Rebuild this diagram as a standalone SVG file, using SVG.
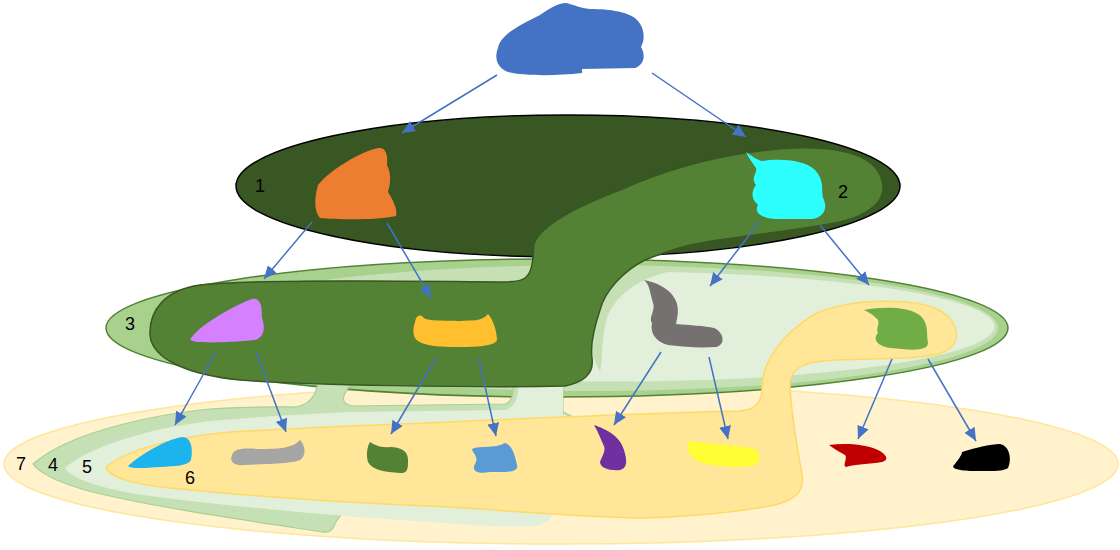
<svg xmlns="http://www.w3.org/2000/svg" width="1120" height="550" viewBox="0 0 1120 550">
<defs>
<style>
.lbl{font-family:"Liberation Sans",Arial,sans-serif;font-size:18px;fill:#000;text-anchor:middle}
.cn{stroke:#4472C4;stroke-width:1.5;fill:none;marker-end:url(#ah)}
</style>
<marker id="ah" viewBox="0 0 13 12" refX="13" refY="6" markerWidth="13" markerHeight="12" orient="auto" markerUnits="userSpaceOnUse">
<path d="M0,0 L13,6 L0,12 Z" fill="#4472C4"/>
</marker>
</defs>
<rect width="1120" height="550" fill="#fff"/>

<g id="region7">
<ellipse cx="561" cy="464" rx="557" ry="80" fill="#FFF2CC" stroke="#FFE699" stroke-width="1.5"/>
</g>

<g id="region3">
<ellipse cx="557" cy="328" rx="451" ry="69" fill="#A9D18E" stroke="#548235" stroke-width="1.5"/>
<ellipse cx="590" cy="328" rx="408" ry="63" fill="#C5E0B4"/>
<path d="M600,372 C603,358 601,338 607,318 C614,296 640,278 668,272 A378,55 0 1 1 565,381 L510,388 L510,350 L590,350 Z" fill="#E2EFDA"/>
</g>

<g id="region4">
<path d="M33,464 C60,440 120,420 200,410 C240,406 280,407 295,407 C308,405 316,398 318,382 L352,382 C346,392 336,402 352,406 L505,404 C512,402 514,394 513,382 L563,382 L563,412 L600,430 L600,500 L345,512 C338,516 336,522 334,526 C331,533 325,533 316,531 C250,521 140,505 85,490 C58,482 40,474 33,464 Z" fill="#C5E0B4" stroke="#A9D18E" stroke-width="1.2"/>
</g>

<g id="region5">
<path d="M65,468 C90,446 150,428 210,421 C280,415 330,413 350,412 L505,410 C515,407 519,398 518,383 L563,381 L563,414 L600,430 L600,500 L556,508 C552,515 550,522 540,525 C520,528 480,526 447,523 C350,517 240,508 150,496 C100,489 70,478 65,468 Z" fill="#E2EFDA"/>
</g>

<g id="region1">
<ellipse cx="568" cy="186" rx="332" ry="71" fill="#385723" stroke="#000" stroke-width="1.5"/>
</g>

<g id="region2">
<path d="M525,278 C533,272 533,258 534,244 C540,225 580,205 620,190 C660,172 720,152 794,148 C840,146 875,155 882,180 C888,200 870,215 840,222 C790,232 720,238 690,245 C670,250 655,256 645,260 C625,270 605,290 600,310 C595,325 590,345 592,358 C594,372 585,382 565,386 C480,388 300,385 240,380 C190,375 152,360 150,335 C149,310 165,290 200,285 C260,278 450,282 500,282 C515,282 522,281 525,278 Z" fill="#548235" stroke="#385723" stroke-width="1.5"/>
</g>

<g id="region6">
<path d="M106,467 C125,452 165,438 230,432 C300,428 380,425 450,422 C560,417 650,413 740,411 C756,410 762,402 762,388 C762,362 782,334 815,314 C840,302 880,299 915,303 C945,307 958,322 956,338 C954,352 938,356 905,358 L835,360 C808,361 792,366 790,382 C790,410 798,450 802,475 C805,495 790,502 770,506 C730,513 690,517 640,518 C580,517 500,510 450,507 C350,503 250,496 170,488 C130,484 108,476 106,467 Z" fill="#FFE699" stroke="#FFD966" stroke-width="1.5"/>
</g>

<g id="n-blue-top"><path d="M498,48 C500,35 520,25 540,15 C550,8 558,3 566,3 C575,5 580,8 590,9 C610,9 630,12 637,20 C645,28 645,40 641,47 C646,55 644,65 635,68 L582,69 L582,73 C555,76 525,76 508,72 C497,68 494,58 498,48 Z" fill="#4472C4"/></g>
<g id="n-orange"><path d="M318,185 C330,170 360,152 378,148 C386,147 388,155 387,165 C392,175 390,185 388,192 C393,200 398,210 396,216 C380,220 340,220 320,218 C313,210 315,195 318,185 Z" fill="#ED7D31"/></g>
<g id="n-cyan"><path d="M746,152 C752,156 757,160 762,161 C780,158 805,160 815,170 C826,182 820,192 824,200 C828,210 822,218 812,219 L775,219 C760,218 754,212 758,205 C750,198 752,190 756,185 C750,178 758,172 756,168 C752,162 748,157 746,152 Z" fill="#2DFFFF"/></g>
<g id="n-lilac"><path d="M192,337 C200,325 235,305 252,299 C262,297 262,310 262,318 C266,330 263,338 255,340 C235,342 210,343 198,342 C190,341 189,339 192,337 Z" fill="#D580FF"/></g>
<g id="n-gold"><path d="M415,322 C416,316 420,313 424,318 C430,322 450,320 460,321 C470,320 482,322 488,314 C492,318 497,330 497,340 C495,347 470,347 455,347 C440,347 420,346 415,338 C412,332 414,326 415,322 Z" fill="#FFBF2F"/></g>
<g id="n-darkgray"><path d="M644,280 C655,282 668,288 673,296 C680,305 678,315 676,324 C690,325 705,326 714,328 C724,332 726,345 716,347 C700,348 685,347 668,345 C655,342 650,332 652,323 C648,318 656,310 653,303 C650,293 650,285 644,280 Z" fill="#767171"/></g>
<g id="n-green"><path d="M864,310 C880,307 905,306 918,314 C930,322 926,335 928,342 C929,352 910,350 890,348 C878,346 872,340 878,333 C875,328 882,322 876,318 C872,314 868,312 864,310 Z" fill="#70AD47"/></g>
<g id="n-skyblue"><path d="M128,466 C140,455 165,440 182,437 C192,437 193,450 191,460 C188,466 175,466 160,467 C145,468 130,469 128,466 Z" fill="#1CB4EC"/></g>
<g id="n-gray"><path d="M232,455 C234,448 245,448 260,449 C275,449 292,449 300,440 C305,445 307,455 300,460 C290,464 265,464 245,465 C235,466 229,462 232,455 Z" fill="#A5A5A5"/></g>
<g id="n-darkgreen"><path d="M370,442 C375,445 380,448 390,447 C402,447 408,452 408,460 C408,468 408,474 400,473 C385,472 372,470 368,462 C366,455 367,447 370,442 Z" fill="#548235"/></g>
<g id="n-steelblue"><path d="M472,449 C480,445 495,449 505,443 C512,445 515,455 517,465 C519,473 505,472 490,472 C478,474 470,472 476,462 C478,456 472,452 472,449 Z" fill="#5B9BD5"/></g>
<g id="n-purple"><path d="M594,425 C606,429 620,436 624,450 C627,460 628,468 620,470 C610,471 600,468 600,462 C602,456 607,450 603,444 C600,438 598,431 594,425 Z" fill="#7030A0"/></g>
<g id="n-yellow"><path d="M689,441 C700,443 730,445 752,448 C762,451 762,463 752,466 C735,468 710,466 700,462 C690,458 686,450 689,441 Z" fill="#FFFF33"/></g>
<g id="n-red"><path d="M829,445 C845,443 865,444 878,450 C886,454 890,460 882,462 C870,464 855,464 846,467 C842,466 848,458 845,455 C840,452 834,449 829,445 Z" fill="#C00000"/></g>
<g id="n-black"><path d="M954,465 C958,460 962,455 962,452 C975,448 990,444 1000,444 C1010,446 1012,460 1008,468 C1002,472 990,471 975,471 C962,471 950,469 954,465 Z" fill="#000"/></g>

<g id="connectors">
<line class="cn" x1="497" y1="75" x2="402" y2="133"/>
<line class="cn" x1="652" y1="73" x2="746" y2="137"/>
<line class="cn" x1="312" y1="222" x2="264" y2="279"/>
<line class="cn" x1="387" y1="223" x2="431" y2="298"/>
<line class="cn" x1="760" y1="221" x2="710" y2="286"/>
<line class="cn" x1="820" y1="225" x2="869" y2="285"/>
<line class="cn" x1="216" y1="352" x2="175" y2="425"/>
<line class="cn" x1="256" y1="352" x2="286" y2="432"/>
<line class="cn" x1="436" y1="358" x2="391" y2="434"/>
<line class="cn" x1="479" y1="359" x2="496" y2="436"/>
<line class="cn" x1="661" y1="352" x2="614" y2="425"/>
<line class="cn" x1="709" y1="357" x2="728" y2="439"/>
<line class="cn" x1="892" y1="359" x2="858" y2="439"/>
<line class="cn" x1="928" y1="359" x2="976" y2="441"/>
</g>

<g id="labels">
<text class="lbl" x="260" y="192">1</text>
<text class="lbl" x="843" y="198">2</text>
<text class="lbl" x="130" y="330">3</text>
<text class="lbl" x="21" y="470">7</text>
<text class="lbl" x="53" y="471">4</text>
<text class="lbl" x="87" y="473">5</text>
<text class="lbl" x="190" y="484">6</text>
</g>
</svg>
